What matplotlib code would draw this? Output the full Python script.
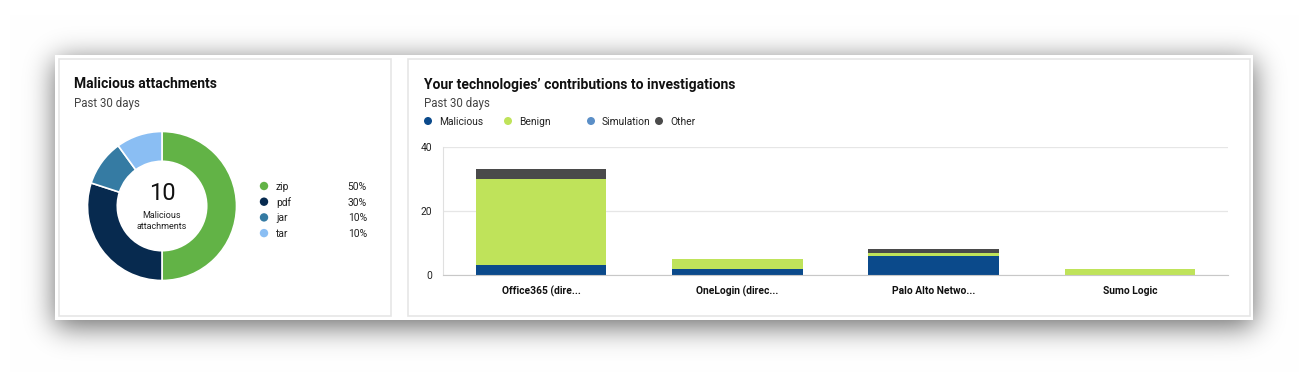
import numpy as np
import matplotlib
matplotlib.use("Agg")
import matplotlib.pyplot as plt
from matplotlib.patches import Rectangle, Circle

plt.rcParams['font.family'] = ['Roboto', 'DejaVu Sans']

# donut data
file_types = ['zip', 'pdf', 'jar', 'tar']
file_shares = [50, 30, 10, 10]
file_colors = ['#62B346', '#072A4F', '#357BA3', '#8ABEF3']
total_attachments = 10

# stacked bar data
technologies = ['Office365 (dire...', 'OneLogin (direc...', 'Palo Alto Netwo...', 'Sumo Logic']
series_names = ['Malicious', 'Benign', 'Simulation', 'Other']
malicious = [3, 2, 6, 0]
benign = [27, 3, 1, 2]
simulation = [0, 0, 0, 0]
other = [3, 0, 1, 0]
series_colors = ['#0B4A8B', '#BFE35A', '#5B8FC7', '#4A4A4A']
y_ticks = [0, 20, 40]

W, H = 1308, 375
fig = plt.figure(figsize=(W / 100, H / 100), dpi=100)

# background layer in pixel coordinates
bg = fig.add_axes([0, 0, 1, 1])
bg.set_xlim(0, W)
bg.set_ylim(H, 0)
bg.axis('off')

# soft shadow around the outer card
yy, xx = np.mgrid[0:H, 0:W]
mask = ((xx >= 55) & (xx <= 1253) & (yy >= 60) & (yy <= 326)).astype(float)
k = np.exp(-0.5 * (np.arange(-45, 46) / 14.0) ** 2)
k /= k.sum()
blur = np.apply_along_axis(lambda r: np.convolve(r, k, mode='same'), 1, mask)
blur = np.apply_along_axis(lambda c: np.convolve(c, k, mode='same'), 0, blur)
shade = 1 - 0.58 * blur
img = np.dstack([shade, shade, shade])
bg.imshow(img, extent=(0, W, H, 0), zorder=0, interpolation='bilinear')

bg.add_patch(Rectangle((55, 55), 1198, 265, facecolor='white', edgecolor='none', zorder=1))
bg.add_patch(Rectangle((59, 59), 332, 257, facecolor='white', edgecolor='#E6E6E6', lw=1.2, zorder=2))
bg.add_patch(Rectangle((408, 59), 842, 257, facecolor='white', edgecolor='#E6E6E6', lw=1.2, zorder=2))

# left panel texts
bg.text(74, 83, 'Malicious attachments', fontsize=10, fontweight='bold', color='#111111',
        va='center_baseline', ha='left', zorder=3)
bg.text(74, 102, 'Past 30 days', fontsize=8.3, color='#444444', va='center_baseline',
        ha='left', zorder=3)

# donut legend
for i, (name, share, col) in enumerate(zip(file_types, file_shares, file_colors)):
    y = 186 + i * 15.7
    bg.add_patch(Circle((264, y), 4.2, facecolor=col, edgecolor='none', zorder=3))
    bg.text(276, y, name, fontsize=7.4, color='#222222', va='center_baseline', ha='left', zorder=3)
    bg.text(367, y, f'{share}%', fontsize=7.4, color='#222222', va='center_baseline',
            ha='right', zorder=3)

# right panel texts
bg.text(424, 83, 'Your technologies\u2019 contributions to investigations', fontsize=10,
        fontweight='bold', color='#111111', va='center_baseline', ha='left', zorder=3)
bg.text(424, 102, 'Past 30 days', fontsize=8.3, color='#444444', va='center_baseline',
        ha='left', zorder=3)
legend_x = [428, 508, 591, 659]
for x, name, col in zip(legend_x, series_names, series_colors):
    bg.add_patch(Circle((x, 121), 4.0, facecolor=col, edgecolor='none', zorder=3))
    bg.text(x + 11, 121, name, fontsize=7.4, color='#222222', va='center_baseline',
            ha='left', zorder=3)

# donut
cx, cy, r = 162, 206, 76
ax_d = fig.add_axes([(cx - r) / W, 1 - (cy + r) / H, 2 * r / W, 2 * r / H])
ax_d.pie(file_shares, colors=file_colors, startangle=90, counterclock=False,
         wedgeprops=dict(width=0.4, edgecolor='white', linewidth=1.2))
ax_d.set_xlim(-1.02, 1.02)
ax_d.set_ylim(-1.02, 1.02)
ax_d.set_aspect('auto')
ax_d.text(0, 0.17, str(total_attachments), fontsize=17, color='#111111', ha='center', va='center')
ax_d.text(0, -0.2, 'Malicious\nattachments', fontsize=6.5, color='#222222', ha='center',
          va='center', linespacing=1.35)

# stacked bars
x0, x1, ytop, ybot = 443, 1228, 147, 275
ax = fig.add_axes([x0 / W, 1 - ybot / H, (x1 - x0) / W, (ybot - ytop) / H])
pos = np.arange(len(technologies))
bottom = np.zeros(len(technologies))
for vals, col in zip([malicious, benign, simulation, other], series_colors):
    ax.bar(pos, vals, width=0.665, bottom=bottom, color=col, zorder=3)
    bottom += np.array(vals)
ax.set_xlim(-0.5, len(technologies) - 0.5)
ax.set_ylim(0, 40)
ax.set_yticks(y_ticks)
ax.set_xticks(pos)
ax.set_xticklabels(technologies, fontsize=7.4, fontweight='bold', color='#111111')
ax.tick_params(axis='y', labelsize=7.4, labelcolor='#222222', length=0, pad=8)
ax.tick_params(axis='x', length=0, pad=8)
ax.grid(axis='y', color='#E6E6E6', lw=0.9, zorder=0)
for s in ['top', 'right']:
    ax.spines[s].set_visible(False)
ax.spines['left'].set_color('#E0E0E0')
ax.spines['bottom'].set_color('#C8C8C8')
ax.spines['bottom'].set_zorder(4)
ax.set_facecolor('none')

fig.savefig('out.png', dpi=100)
